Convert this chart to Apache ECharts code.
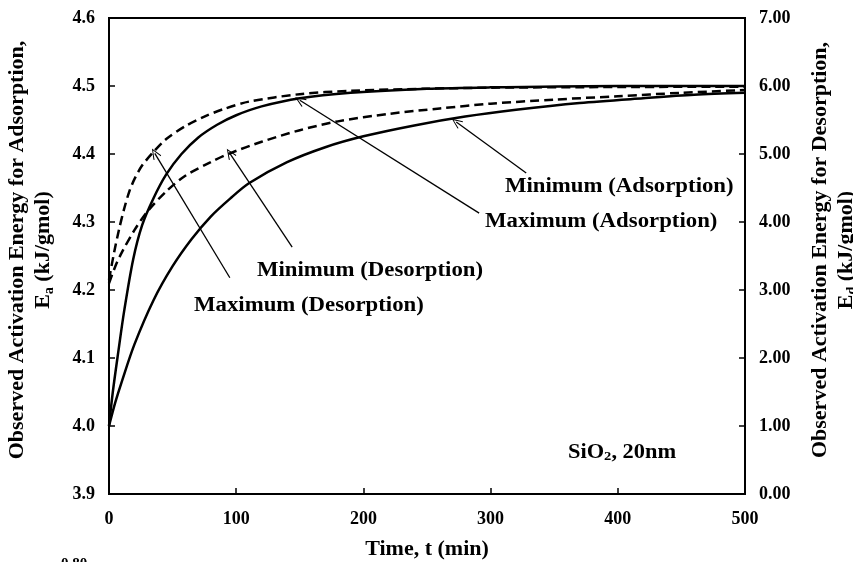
<!DOCTYPE html>
<html>
<head>
<meta charset="utf-8">
<script src="https://cdn.jsdelivr.net/npm/echarts@6/dist/echarts.min.js"></script>
<style>html,body{margin:0;padding:0;background:#fff}#c{width:853px;height:562px}</style>
</head>
<body>
<div id="c"></div>
<script>
// ---- data ----
const xTicks = [0, 100, 200, 300, 400, 500];
const leftTicks = [3.9, 4.0, 4.1, 4.2, 4.3, 4.4, 4.5, 4.6];
const rightTicks = [0, 1, 2, 3, 4, 5, 6, 7];

// Maximum (Adsorption) - solid, left axis
const tMaxAds = [0, 3, 7, 12, 19, 26, 35, 45, 57, 70, 85, 100, 120, 150, 190, 250, 300, 400, 500];
const vMaxAds = [4.0, 4.05, 4.105, 4.17, 4.245, 4.295, 4.335, 4.37, 4.40, 4.424, 4.443, 4.457, 4.47, 4.482, 4.49, 4.496, 4.498, 4.5, 4.5];

// Minimum (Adsorption) - solid, left axis
const tMinAds = [0, 5, 10, 20, 35, 50, 65, 80, 95, 110, 140, 170, 200, 240, 280, 320, 370, 420, 460, 500];
const vMinAds = [4.0, 4.035, 4.065, 4.12, 4.185, 4.235, 4.275, 4.308, 4.334, 4.357, 4.388, 4.41, 4.426, 4.442, 4.455, 4.465, 4.475, 4.482, 4.487, 4.49];

// Maximum (Desorption) - dashed, right axis
const tMaxDes = [0, 4, 8, 12, 16, 20, 26, 34, 45, 60, 75, 90, 110, 150, 190, 250, 300, 400, 500];
const vMaxDes = [3.15, 3.55, 3.9, 4.2, 4.45, 4.63, 4.83, 5.01, 5.22, 5.41, 5.55, 5.66, 5.77, 5.88, 5.93, 5.96, 5.975, 5.985, 5.99];

// Minimum (Desorption) - dashed, right axis
const tMinDes = [0, 5, 10, 20, 30, 45, 60, 80, 95, 120, 150, 180, 220, 260, 300, 350, 400, 450, 500];
const vMinDes = [3.1, 3.35, 3.55, 3.88, 4.15, 4.45, 4.68, 4.88, 5.01, 5.18, 5.35, 5.48, 5.59, 5.67, 5.74, 5.8, 5.85, 5.9, 5.94];

// arrows: [tailT, tailV, tipT, tipV] in left-axis units
const arrows = [
  [95, 4.218, 36, 4.401],    // Maximum (Desorption)
  [144, 4.263, 95, 4.401],   // Minimum (Desorption)
  [291, 4.313, 150, 4.479],  // Maximum (Adsorption)
  [328, 4.372, 273, 4.447]   // Minimum (Adsorption)
];
const labels = [
  {text: 'Minimum (Adsorption)', x: 505, y: 187},
  {text: 'Maximum (Adsorption)', x: 485, y: 222},
  {text: 'Minimum (Desorption)', x: 257, y: 271},
  {text: 'Maximum (Desorption)', x: 194, y: 306}
];

const zip = (a, b) => a.map((t, i) => [t, b[i]]);
const FF = '"Liberation Serif", "Times New Roman", serif';
const chevron = 'path://M0,10 L5,0 L10,10 L9,10.6 L5,2.2 L1,10.6 Z';

const chart = echarts.init(document.getElementById('c'));
const axisCommon = {
  axisLine: {show: true, lineStyle: {color: '#000', width: 2}},
  axisTick: {show: true, inside: true, length: 6, lineStyle: {color: '#000', width: 1.5}},
  splitLine: {show: false},
  axisLabel: {color: '#000', fontFamily: FF, fontWeight: 'bold', fontSize: 18, margin: 14}
};
const lineCommon = {type: 'line', smooth: 0.3, showSymbol: false};

const option = {
  animation: false,
  backgroundColor: '#fff',
  grid: {left: 109, right: 108, top: 18, bottom: 68, show: true, borderColor: '#000', borderWidth: 2, containLabel: false},
  xAxis: Object.assign({}, axisCommon, {
    type: 'value', min: xTicks[0], max: xTicks[xTicks.length - 1], interval: 100,
    axisLabel: Object.assign({}, axisCommon.axisLabel, {margin: 16})
  }),
  yAxis: [
    Object.assign({}, axisCommon, {
      type: 'value', position: 'left', min: leftTicks[0], max: leftTicks[leftTicks.length - 1], interval: 0.1,
      axisLabel: Object.assign({}, axisCommon.axisLabel, {formatter: v => v.toFixed(1)})
    }),
    Object.assign({}, axisCommon, {
      type: 'value', position: 'right', min: rightTicks[0], max: rightTicks[rightTicks.length - 1], interval: 1,
      axisLabel: Object.assign({}, axisCommon.axisLabel, {formatter: v => v.toFixed(2)})
    })
  ],
  series: [
    Object.assign({}, lineCommon, {yAxisIndex: 0, data: zip(tMaxAds, vMaxAds),
     lineStyle: {color: '#000', width: 2.5}}),
    Object.assign({}, lineCommon, {yAxisIndex: 0, data: zip(tMinAds, vMinAds),
     lineStyle: {color: '#000', width: 2.5},
     markLine: {
       silent: true, symbol: ['none', chevron], symbolSize: [9, 11],
       label: {show: false},
       lineStyle: {color: '#000', width: 1.3, type: 'solid'},
       data: arrows.map(a => [{coord: [a[0], a[1]]}, {coord: [a[2], a[3]]}])
     }}),
    Object.assign({}, lineCommon, {yAxisIndex: 1, data: zip(tMaxDes, vMaxDes),
     lineStyle: {color: '#000', width: 2.5, type: [9, 5]}}),
    Object.assign({}, lineCommon, {yAxisIndex: 1, data: zip(tMinDes, vMinDes),
     lineStyle: {color: '#000', width: 2.5, type: [9, 5]}})
  ],
  graphic: [
    ...labels.map(l => ({
      type: 'text', x: l.x, y: l.y, scaleX: 1.14, silent: true,
      style: {text: l.text, fill: '#000', fontFamily: FF, fontWeight: 'bold', fontSize: 20, align: 'left', verticalAlign: 'middle'}
    })),
    {type: 'text', x: 568, y: 453, scaleX: 1.12, silent: true,
     style: {text: 'SiO{sub|2}, 20nm', fill: '#000', fontFamily: FF, fontWeight: 'bold', fontSize: 20, align: 'left', verticalAlign: 'middle',
       rich: {sub: {fontFamily: FF, fontWeight: 'bold', fontSize: 13, verticalAlign: 'bottom', padding: [8, 0, 0, 0]}}}},
    {type: 'text', x: 427, y: 550, scaleX: 1.1, silent: true,
     style: {text: 'Time, t (min)', fill: '#000', fontFamily: FF, fontWeight: 'bold', fontSize: 20, align: 'center', verticalAlign: 'middle'}},
    {type: 'text', x: 30, y: 250, rotation: Math.PI / 2, silent: true,
     style: {text: 'Observed Activation Energy for Adsorption,\nE{sub|a} (kJ/gmol)', fill: '#000', fontFamily: FF, fontWeight: 'bold', fontSize: 22, lineHeight: 26,
       align: 'center', verticalAlign: 'middle',
       rich: {sub: {fontFamily: FF, fontWeight: 'bold', fontSize: 14, verticalAlign: 'bottom', lineHeight: 26}}}},
    {type: 'text', x: 833, y: 250, rotation: Math.PI / 2, silent: true,
     style: {text: 'Observed Activation Energy for Desorption,\nE{sub|d} (kJ/gmol)', fill: '#000', fontFamily: FF, fontWeight: 'bold', fontSize: 22, lineHeight: 26,
       align: 'center', verticalAlign: 'middle',
       rich: {sub: {fontFamily: FF, fontWeight: 'bold', fontSize: 14, verticalAlign: 'bottom', lineHeight: 26}}}},
    {type: 'text', x: 74, y: 557, silent: true,
     style: {text: '0.80', fill: '#000', fontFamily: FF, fontWeight: 'bold', fontSize: 15, align: 'center', verticalAlign: 'top'}}
  ]
};
chart.setOption(option);
</script>
</body>
</html>
